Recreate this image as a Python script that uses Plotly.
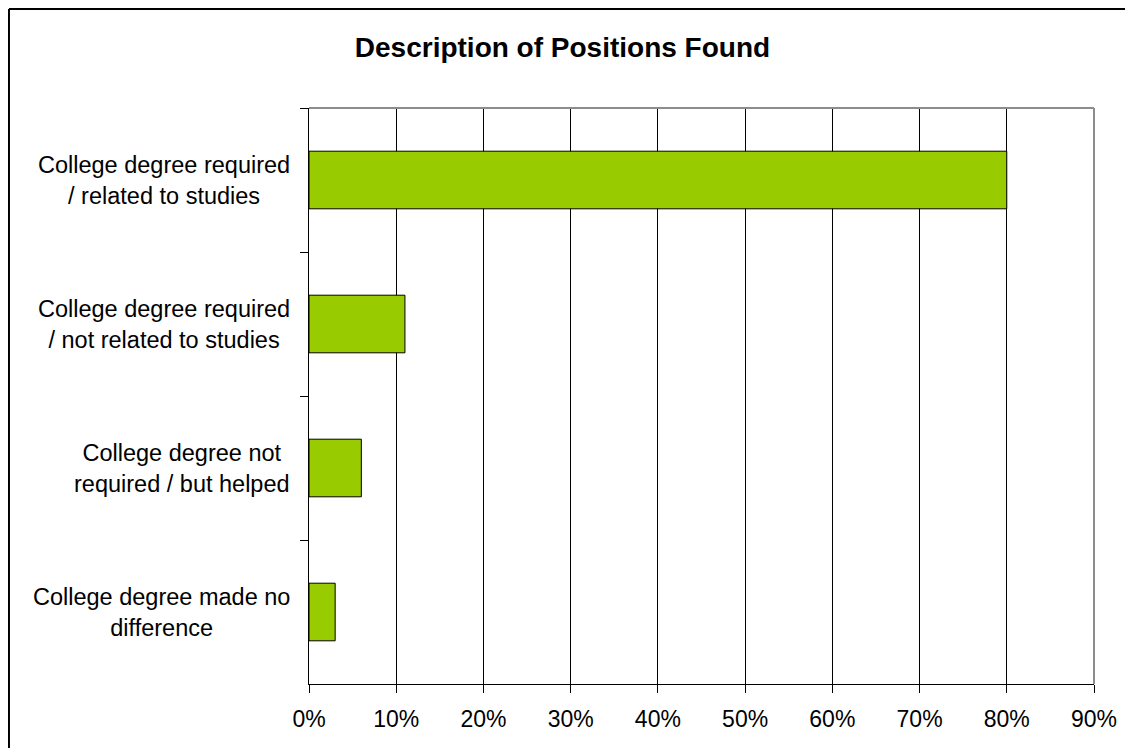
import plotly.graph_objects as go

# data
categories = [
    "College degree required<br>/ related to studies",
    "College degree required<br>/ not related to studies",
    "College degree not<br>required / but helped",
    "College degree made no<br>difference",
]
shares = [80, 11, 6, 3]
x_ticks = [0, 10, 20, 30, 40, 50, 60, 70, 80, 90]

FONT = "Liberation Sans, Arial, sans-serif"

fig = go.Figure()

fig.add_trace(go.Bar(
    x=shares, y=categories, orientation="h",
    marker=dict(color="#99CC00", line=dict(color="black", width=1)),
    width=0.4, showlegend=False, hoverinfo="x+y",
))

# category labels as centred annotations (Excel-style centred lines)
for cat in categories:
    fig.add_annotation(
        x=-0.022, xref="paper", y=cat, yref="y",
        text=cat, showarrow=False, xanchor="right", align="center",
        font=dict(family=FONT, size=23.5, color="black"),
    )

# grey plot-area border on top and right
fig.add_shape(type="line", xref="paper", yref="paper", x0=0, x1=1, y0=1, y1=1,
              line=dict(color="#8c8c8c", width=2), layer="above")
fig.add_shape(type="line", xref="paper", yref="paper", x0=1, x1=1, y0=0, y1=1,
              line=dict(color="#8c8c8c", width=2), layer="above")
# outer chart frame: only its left and top edges fall inside the picture
fig.add_shape(type="line", xref="paper", yref="paper", x0=-0.3822, x1=-0.3822, y0=-0.3, y1=1.1719,
              line=dict(color="black", width=2), layer="below")
fig.add_shape(type="line", xref="paper", yref="paper", x0=-0.3822, x1=1.5, y0=1.1719, y1=1.1719,
              line=dict(color="black", width=2), layer="below")

fig.update_xaxes(
    range=[0, 90], tickvals=x_ticks, ticktext=[f"{v}%" for v in x_ticks],
    showgrid=True, gridcolor="black", gridwidth=1,
    showline=True, linecolor="black", linewidth=1,
    ticks="outside", ticklen=8, tickcolor="black", ticklabelstandoff=6,
    tickfont=dict(family=FONT, size=23, color="black"),
    zeroline=False, fixedrange=True, automargin=False,
)
fig.update_yaxes(
    autorange="reversed", showticklabels=False,
    showline=True, linecolor="black", linewidth=1,
    ticks="outside", ticklen=8, tickcolor="black", tickson="boundaries",
    showgrid=False, fixedrange=True, automargin=False,
)

# page body has an 8px margin, so the figure is sized to fit inside the window
fig.update_layout(
    width=1117, height=740,
    margin=dict(l=301, r=31, t=100, b=64),
    paper_bgcolor="white", plot_bgcolor="white",
    title=dict(text="<b>Description of Positions Found</b>", x=0.4964, xanchor="center",
               y=0.947, yanchor="middle",
               font=dict(family=FONT, size=28, color="black")),
    bargap=0.6,
)

fig.write_html("out.html")
